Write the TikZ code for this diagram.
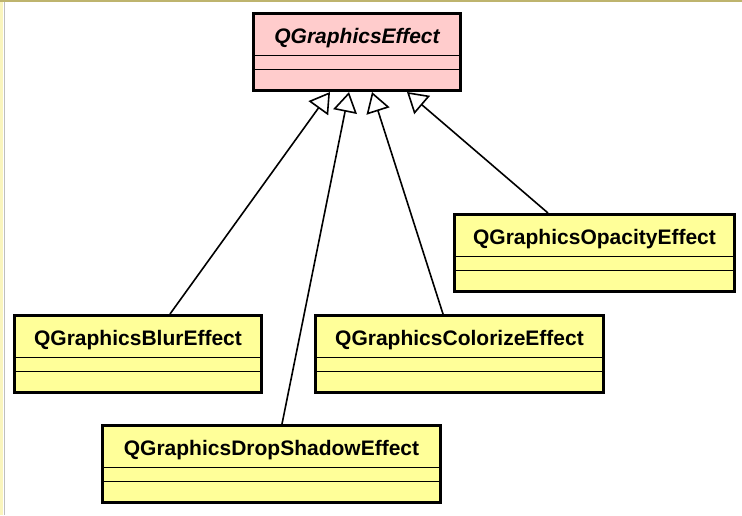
\documentclass[tikz,border=0pt]{standalone}
\usepackage{fontspec}
\setmainfont{Liberation Sans}
\usetikzlibrary{arrows.meta, positioning}

\definecolor{basepink}{RGB}{255,204,204}
\definecolor{subyellow}{RGB}{255,255,153}
\definecolor{edgeolive}{RGB}{190,180,110}
\definecolor{edgecream}{RGB}{250,245,190}

\begin{document}
\begin{tikzpicture}[
    x=1pt, y=-1pt,
    classbox/.style={rectangle, draw, line width=3pt, minimum height=77pt, inner sep=0pt},
    baseclass/.style={classbox, fill=basepink},
    subclass/.style={classbox, fill=subyellow},
    classname/.style={anchor=base, font=\fontsize{21}{25}\selectfont\bfseries},
    compline/.style={line width=1.5pt},
    inherit/.style={line width=1.6pt,
        -{Triangle[open, length=20pt, width=24pt, line width=1.6pt]}  % hollow UML head
        }
]
\useasboundingbox (0,0) rectangle (742,515);

% Window edge
\draw[edgecream, line width=3pt] (1.5,0) -- (1.5,515);
\draw[black!25, line width=1pt] (4,0) -- (4,515);
\draw[edgeolive, line width=2pt] (0,1) -- (742,1);

% Base class
\node[baseclass, minimum width=207pt] (effect) at (357,52) {};
\node[classname, font=\fontsize{21}{25}\selectfont\bfseries\itshape] (effect-name) at ([yshift=-31.5pt]effect.north) {QGraphicsEffect};

% Subclasses
\node[subclass, minimum width=247pt] (blur) at (138,354) {};
\node[classname] (blur-name) at ([yshift=-31.5pt]blur.north) {QGraphicsBlurEffect};

\node[subclass, minimum width=288pt] (colorize) at (459.5,354) {};
\node[classname] (colorize-name) at ([yshift=-31.5pt]colorize.north) {QGraphicsColorizeEffect};

\node[subclass, minimum width=280pt] (opacity) at (594.5,253) {};
\node[classname] (opacity-name) at ([yshift=-31.5pt]opacity.north) {QGraphicsOpacityEffect};

\node[subclass, minimum width=338pt] (shadow) at (271.5,464) {};
\node[classname] (shadow-name) at ([yshift=-31.5pt]shadow.north) {QGraphicsDropShadowEffect};

% Compartments
\foreach \cls in {effect, blur, colorize, opacity, shadow} {
    \draw[compline] ([yshift=-43.5pt]\cls.north west) -- ([yshift=-43.5pt]\cls.north east);
    \draw[compline] ([yshift=-57.5pt]\cls.north west) -- ([yshift=-57.5pt]\cls.north east);
}

% Inheritance arrows
\draw[inherit] ([xshift=32pt]blur.north) -- ([xshift=-27pt]effect.south);
\draw[inherit] ([xshift=10.5pt]shadow.north) -- ([xshift=-8pt]effect.south);
\draw[inherit] ([xshift=-16.5pt]colorize.north) -- ([xshift=15pt]effect.south);
\draw[inherit] ([xshift=-46.5pt]opacity.north) -- ([xshift=50pt]effect.south);

\end{tikzpicture}
\end{document}
